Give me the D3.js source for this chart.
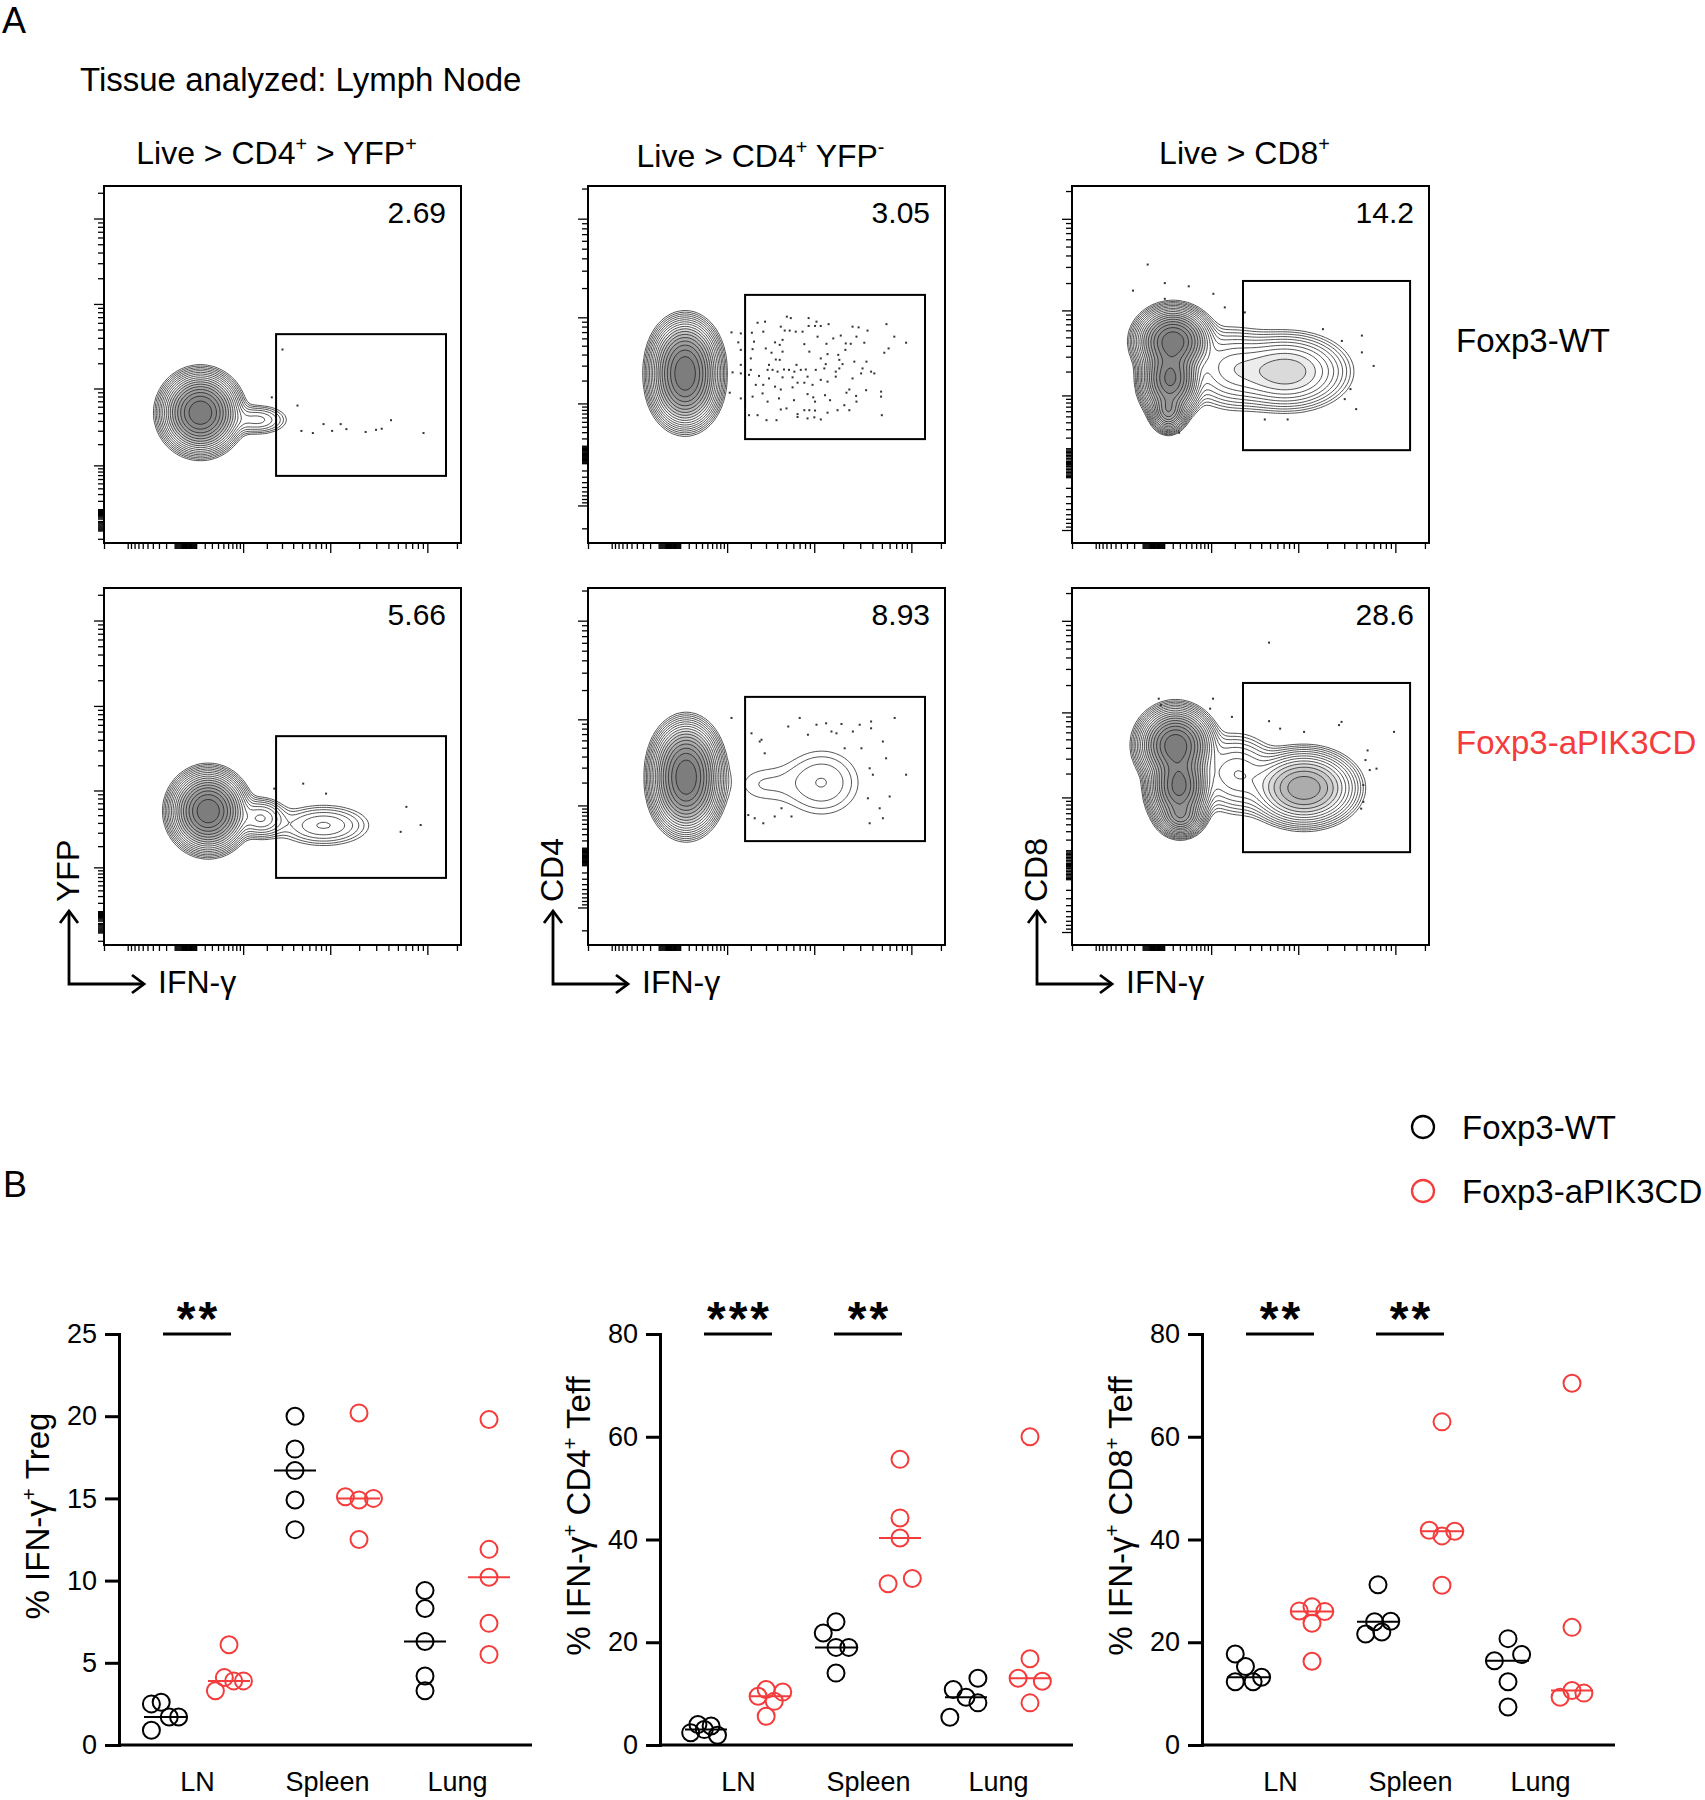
<!DOCTYPE html>
<html lang="en">
<head>
<meta charset="UTF-8">
<title>IFN-γ in Treg and Teff: Foxp3-WT vs Foxp3-aPIK3CD</title>
<style>
  body { margin: 0; background: #fff; }
  svg text { font-family: "Liberation Sans", Arial, Helvetica, sans-serif; fill: #000; }
</style>
</head>
<body>
<svg id="fig" width="1705" height="1800"></svg>
<script src="https://d3js.org/d3.v7.min.js"></script>
<script>
// ---------- panel A data ----------
const flowTitles = ["Live > CD4^+ > YFP^+", "Live > CD4^+ YFP^-", "Live > CD8^+"];
const flowYLabels = ["YFP", "CD4", "CD8"];
const flowXLabel = "IFN-γ";
const rowLabels = ["Foxp3-WT", "Foxp3-aPIK3CD"];
const gateFreqs = [["2.69", "3.05", "14.2"], ["5.66", "8.93", "28.6"]];
// gates per column, channel units 0-1000: [x1, x2, y1, y2]
const gates = [[482, 958, 188, 585], [440, 944, 291, 695], [479, 947, 260, 734]];

// populations: [cx, cy, sx, sy, peak] (channel units)
const popsWtTreg = [[270, 365, 41, 42, 1], [430, 345, 45, 22, 0.03]];
const popsWtCd4 = [[272, 505, 37, 48, 1], [272, 445, 37, 48, 1]];
const popsWtCd8 = [[283, 565, 40, 36, 1], [275, 460, 32, 42, 0.85], [270, 370, 20, 24, 0.35],
                   [600, 480, 78, 48, 0.12], [440, 490, 60, 55, 0.05]];
const popsApTreg = [[292, 375, 40, 42, 1], [440, 355, 35, 28, 0.05], [615, 335, 72, 32, 0.028]];
const popsApCd4 = [[275, 500, 37, 50, 1], [275, 440, 37, 50, 1], [655, 455, 75, 65, 0.025],
                   [480, 450, 60, 45, 0.012]];
const popsApCd8 = [[290, 560, 40, 40, 1], [300, 445, 33, 45, 0.9], [305, 360, 25, 22, 0.3],
                   [650, 440, 62, 44, 0.3], [460, 480, 55, 55, 0.05]];

// outlier events outside the lowest contour
const dotsWtTreg = [[500,542],[542,385],[553,314],[585,308],[615,333],[639,314],[663,333],[679,319],
                    [733,311],[762,317],[778,320],[804,344],[895,308],[470,408]];
const dotsWtCd4 = [[557,634],[568,630],[618,630],[640,620],[475,617],[496,620],[540,606],[618,608],
  [636,608],[652,608],[674,613],[741,606],[758,604],[836,613],[459,589],[491,592],[551,595],[565,595],
  [582,592],[601,592],[643,578],[687,573],[708,581],[783,595],[752,578],[858,578],[465,564],[524,562],
  [537,555],[545,569],[606,557],[668,558],[722,559],[736,558],[774,561],[891,561],[461,543],[498,545],
  [514,533],[545,536],[620,536],[721,541],[830,533],[842,545],[456,517],[526,514],[537,513],[652,517],
  [671,529],[701,527],[704,513],[507,499],[584,499],[666,501],[713,501],[746,508],[780,508],[456,485],
  [503,485],[517,485],[531,480],[549,486],[563,485],[578,480],[596,485],[610,486],[638,485],[662,489],
  [694,480],[704,489],[769,489],[793,480],[802,475],[451,471],[479,468],[507,461],[545,464],[573,464],
  [615,466],[652,457],[694,466],[741,461],[765,475],[470,443],[491,443],[524,438],[540,430],[573,436],
  [587,449],[606,449],[629,443],[671,452],[732,430],[779,428],[821,424],[461,410],[489,419],[503,396],
  [535,405],[577,400],[615,417],[631,408],[636,396],[664,414],[678,400],[724,421],[751,412],[752,396],
  [821,410],[451,358],[475,358],[500,344],[528,344],[540,374],[556,377],[587,361],[606,372],[620,372],
  [636,371],[652,346],[671,365],[699,372],[718,386],[732,372],[823,358],[587,353],[615,349],[634,352],
  [428,587],[428,541],[428,499],[428,475],[428,405],[421,562],[405,478],[397,421],[402,590]];
const dotsWtCd8 = [[212,780],[260,728],[171,707],[327,719],[396,698],[260,684],[428,660],[484,646],
  [756,566],[812,581],[845,496],[780,431],[796,375],[764,403],[703,599],[604,346],[540,346],[300,309],[812,534]];
const dotsApTreg = [[558,452],[622,424],[847,387],[887,336],[831,317],[477,438]];
const dotsApCd4 = [[402,636],[458,593],[481,570],[495,537],[486,575],[561,612],[593,636],[616,589],
  [640,617],[667,621],[696,593],[710,619],[719,551],[742,598],[766,551],[793,626],[793,607],[826,570],
  [835,523],[859,636],[789,495],[798,477],[845,416],[817,383],[826,355],[789,341],[891,477],[784,411],
  [467,355],[491,341],[523,360],[570,360],[542,383],[449,364],[761,617],[682,598]];
const dotsApCd8 = [[243,690],[395,690],[249,672],[552,847],[448,639],[552,627],[755,625],[748,616],
  [902,597],[828,545],[822,518],[834,490],[853,494],[816,448],[816,401],[810,382],[387,662],[650,597],[583,606]];

const flowPlots = [
  {row: 0, col: 0, pops: popsWtTreg, dots: dotsWtTreg},
  {row: 0, col: 1, pops: popsWtCd4, dots: dotsWtCd4},
  {row: 0, col: 2, pops: popsWtCd8, dots: dotsWtCd8},
  {row: 1, col: 0, pops: popsApTreg, dots: dotsApTreg},
  {row: 1, col: 1, pops: popsApCd4, dots: dotsApCd4},
  {row: 1, col: 2, pops: popsApCd8, dots: dotsApCd8}
];

// logicle-like axes (symlog constant + domain) for IFN-γ and each y marker
const xAxisCfg = {c: 350, domain: [-2000, 220000], majors: [1e3, 1e4, 1e5]};
const yAxisCfg = [
  {c: 30, domain: [-26, 240000], majors: [1e2, 1e3, 1e4, 1e5]},
  {c: 450, domain: [-2980, 212000], majors: [-1e3, 1e3, 1e4, 1e5]},
  {c: 230, domain: [-1470, 226800], majors: [-1e3, 1e3, 1e4, 1e5]}
];

// ---------- panel B data ----------
const categories = ["LN", "Spleen", "Lung"];
const groups = ["Foxp3-WT", "Foxp3-aPIK3CD"];

const tregWt = [[0.9, 2.5, 2.6, 1.7, 1.7], [20.0, 18.0, 16.7, 14.9, 13.1], [9.4, 8.3, 6.3, 4.2, 3.3]];
const tregWtJit = [[-1.6, -1.6, -0.45, 0.5, 1.6], [0, 0, 0, 0, 0], [0, 0, 0, 0, 0]];
const tregAp = [[3.3, 4.1, 6.1, 3.9, 3.9], [20.2, 15.1, 14.9, 15.0, 12.5], [19.8, 11.9, 10.2, 7.4, 5.5]];
const tregApJit = [[-1.6, -0.55, 0, 0.55, 1.7], [0, -1.6, 0, 1.7, 0], [0, 0, 0, 0, 0]];

const cd4Wt = [[2.4, 4.0, 3.0, 3.7, 1.9], [21.8, 24.0, 19.0, 19.0, 14.0], [5.4, 10.8, 9.3, 13.0, 8.2]];
const cd4WtJit = [[-1.8, -0.95, -0.2, 0.6, 1.35], [-1.5, 0, 0, 1.5, 0], [-1.9, -1.5, 0, 1.4, 1.4]];
const cd4Ap = [[9.5, 10.8, 5.6, 8.5, 10.3], [55.6, 44.2, 40.3, 31.4, 32.4], [60.0, 16.8, 13.0, 12.4, 8.2]];
const cd4ApJit = [[-1.4, -0.45, -0.45, 0.5, 1.5], [0, 0, 0, -1.4, 1.45], [0, 0, -1.4, 1.45, 0]];

const cd8Wt = [[17.7, 15.3, 12.3, 12.3, 13.2], [31.2, 24.1, 24.0, 21.6, 22.0], [20.7, 17.6, 16.4, 12.3, 7.4]];
const cd8WtJit = [[-1.5, -0.3, -1.5, 0.6, 1.6], [0, 1.5, -0.4, -1.45, 0.45], [0, 1.6, -1.6, 0, 0]];
const cd8Ap = [[26.1, 26.9, 26.0, 23.7, 16.3], [41.8, 40.7, 41.6, 62.9, 31.1], [70.4, 22.9, 9.3, 10.6, 10.1]];
const cd8ApJit = [[-1.5, 0, 1.5, 0, 0], [-1.5, 0, 1.5, 0, 0], [0, 0, -1.4, 0, 1.4]];

const yLabels = ["% IFN-γ^+ Treg", "% IFN-γ^+ CD4^+ Teff", "% IFN-γ^+ CD8^+ Teff"];
const yMax = [25, 80, 80];
const yTicks = [[0, 5, 10, 15, 20, 25], [0, 20, 40, 60, 80], [0, 20, 40, 60, 80]];
const sigMarks = [[["**", "LN"]], [["***", "LN"], ["**", "Spleen"]], [["**", "LN"], ["**", "Spleen"]]];

const dotCharts = [
  {wt: tregWt, wtJit: tregWtJit, ap: tregAp, apJit: tregApJit},
  {wt: cd4Wt, wtJit: cd4WtJit, ap: cd4Ap, apJit: cd4ApJit},
  {wt: cd8Wt, wtJit: cd8WtJit, ap: cd8Ap, apJit: cd8ApJit}
];

// ---------- drawing ----------
const RED = "#f53c3c";
const svg = d3.select("#fig");

// text with ^x superscripts
function richText(sel, str, size) {
  let up = false;
  str.split(/(\^.)/).filter(s => s.length).forEach(p => {
    if (p[0] === "^") {
      sel.append("tspan").attr("font-size", size * 0.62).attr("dy", -size * 0.4).text(p[1]);
      up = true;
    } else {
      sel.append("tspan").attr("dy", up ? size * 0.4 : 0).text(p);
      up = false;
    }
  });
}

svg.append("text").attr("x", 2).attr("y", 33).attr("font-size", 36).text("A");
svg.append("text").attr("x", 3).attr("y", 1197).attr("font-size", 36).text("B");
svg.append("text").attr("x", 80).attr("y", 91).attr("font-size", 33).text("Tissue analyzed: Lymph Node");

const boxW = 357, boxH = 357;
const colX = [104, 588, 1072];
const rowY = [186, 588];
const G = 150;
const NLEV = 17, LOWEST = 0.006;

function tickList(cfg) {
  const out = [];
  for (let n = 0; n <= 5; n++) {
    for (let k = 1; k <= 9; k++) {
      const v = k * Math.pow(10, n);
      [v, -v].forEach(t => {
        if (t >= cfg.domain[0] && t <= cfg.domain[1] && !cfg.majors.includes(t)) out.push(t);
      });
    }
  }
  return out;
}

flowTitles.forEach((t, c) => {
  const tx = svg.append("text")
    .attr("x", colX[c] + boxW / 2 - 6).attr("y", c === 1 ? 167 : 164)
    .attr("text-anchor", "middle").attr("font-size", 32);
  richText(tx, t, 32);
});

rowLabels.forEach((t, r) => {
  svg.append("text").attr("x", 1456).attr("y", r === 0 ? 352 : 754)
    .attr("font-size", 33).style("fill", r === 0 ? "#000" : RED)
    .text(t);
});

const defs = svg.append("defs");

flowPlots.forEach((p, idx) => {
  const x0 = colX[p.col], y0 = rowY[p.row];
  const g = svg.append("g");
  const xCh = d3.scaleLinear().domain([0, 1000]).range([x0, x0 + boxW]);
  const yCh = d3.scaleLinear().domain([0, 1000]).range([y0 + boxH, y0]);

  // density grid from the populations
  const values = new Float64Array(G * G);
  for (let j = 0; j < G; j++) {
    const cy = 1000 - (j + 0.5) / G * 1000;
    for (let i = 0; i < G; i++) {
      const cx = (i + 0.5) / G * 1000;
      let s = 0;
      p.pops.forEach(([mx, my, sx, sy, a]) => {
        const dx = (cx - mx) / sx, dy = (cy - my) / sy;
        s += a * Math.exp(-0.5 * (dx * dx + dy * dy));
      });
      values[i + j * G] = s;
    }
  }
  const vmax = d3.max(values);
  const thresholds = d3.range(NLEV).map(k => vmax * Math.pow(LOWEST, (k + 1) / NLEV));
  const rings = d3.contours().size([G, G]).thresholds(thresholds)(values);
  const proj = d3.geoTransform({
    point(x, y) { this.stream.point(xCh(x / G * 1000), yCh(1000 - y / G * 1000)); }
  });
  const path = d3.geoPath(proj);

  const clipId = "clip" + idx;
  defs.append("clipPath").attr("id", clipId)
    .append("rect").attr("x", x0).attr("y", y0).attr("width", boxW).attr("height", boxH);

  // dense cores get a light fill so they read dark like the cytometer plot
  g.append("g").attr("clip-path", `url(#${clipId})`)
    .selectAll("path").data(rings).join("path")
    .attr("d", path).attr("fill", "#000")
    .attr("fill-opacity", d => d.value > vmax * 0.06 ? 0.075 : 0)
    .attr("stroke", "#1c1c1c").attr("stroke-width", 0.9).attr("stroke-opacity", 0.85);

  g.append("g").selectAll("rect").data(p.dots).join("rect")
    .attr("x", d => xCh(d[0]) - 1).attr("y", d => yCh(d[1]) - 1)
    .attr("width", 2).attr("height", 2).attr("fill", "#333");

  // gate
  const gt = gates[p.col];
  g.append("rect")
    .attr("x", xCh(gt[0])).attr("y", yCh(gt[3]))
    .attr("width", xCh(gt[1]) - xCh(gt[0])).attr("height", yCh(gt[2]) - yCh(gt[3]))
    .attr("fill", "none").attr("stroke", "#000").attr("stroke-width", 2);

  // frame
  g.append("rect").attr("x", x0).attr("y", y0).attr("width", boxW).attr("height", boxH)
    .attr("fill", "none").attr("stroke", "#000").attr("stroke-width", 2);

  // logicle-style ticks
  const xs = d3.scaleSymlog().constant(xAxisCfg.c).domain(xAxisCfg.domain).range([x0, x0 + boxW]);
  const yc = yAxisCfg[p.col];
  const ys = d3.scaleSymlog().constant(yc.c).domain(yc.domain).range([y0 + boxH, y0]);
  const tickStyle = s => { s.select(".domain").remove(); s.selectAll("line").attr("stroke", "#000").attr("stroke-width", 1.3); };
  g.append("g").attr("transform", `translate(0,${y0 + boxH + 1})`)
    .call(d3.axisBottom(xs).tickValues(tickList(xAxisCfg)).tickSize(5).tickFormat("")).call(tickStyle);
  g.append("g").attr("transform", `translate(0,${y0 + boxH + 1})`)
    .call(d3.axisBottom(xs).tickValues(xAxisCfg.majors).tickSize(9).tickFormat("")).call(tickStyle);
  g.append("g").attr("transform", `translate(${x0 - 1},0)`)
    .call(d3.axisLeft(ys).tickValues(tickList(yc)).tickSize(5).tickFormat("")).call(tickStyle);
  g.append("g").attr("transform", `translate(${x0 - 1},0)`)
    .call(d3.axisLeft(ys).tickValues(yc.majors).tickSize(9).tickFormat("")).call(tickStyle);

  g.append("text").attr("x", x0 + boxW - 15).attr("y", y0 + 37)
    .attr("text-anchor", "end").attr("font-size", 30).text(gateFreqs[p.row][p.col]);

  // axis arrows on the bottom row
  if (p.row === 1) {
    const cx = x0 - 35, cy = y0 + boxH + 39;
    const tipY = y0 + boxH - 34, tipX = x0 + 40;
    const a = g.append("g").attr("fill", "none").attr("stroke", "#000").attr("stroke-width", 2.8);
    a.append("path").attr("d", `M${cx},${tipY}V${cy}H${tipX}`);
    a.append("path").attr("d", `M${cx - 9},${tipY + 12}L${cx},${tipY}L${cx + 9},${tipY + 12}`);
    a.append("path").attr("d", `M${tipX - 12},${cy - 9}L${tipX},${cy}L${tipX - 12},${cy + 9}`);
    g.append("text").attr("x", x0 + 54).attr("y", y0 + boxH + 48).attr("font-size", 32).text(flowXLabel);
    g.append("text").attr("transform", `translate(${x0 - 25},${y0 + boxH - 43}) rotate(-90)`)
      .attr("font-size", 32).text(flowYLabels[p.col]);
  }
});

// ---------- panel B ----------
const axX = [119, 660, 1202];
const yTop = 1334, yBot = 1745;
const R = 8.5;

dotCharts.forEach((ch, ci) => {
  const ax = axX[ci];
  const g = svg.append("g");
  const y = d3.scaleLinear().domain([0, yMax[ci]]).range([yBot, yTop]);
  const x = d3.scalePoint().domain(categories).range([ax + 78, ax + 338]);
  const off = d3.scaleOrdinal().domain(groups).range([-32, 32]);

  const yAx = g.append("g").attr("transform", `translate(${ax},0)`)
    .call(d3.axisLeft(y).tickValues(yTicks[ci]).tickSize(14).tickPadding(8).tickSizeOuter(0));
  yAx.select(".domain").attr("stroke-width", 3).attr("stroke-linecap", "square");
  yAx.selectAll(".tick line").attr("stroke-width", 3);
  yAx.selectAll(".tick text").attr("font-size", 27).attr("font-family", null).attr("fill", "#000");

  g.append("line").attr("x1", ax).attr("x2", ax + 413).attr("y1", yBot).attr("y2", yBot)
    .attr("stroke", "#000").attr("stroke-width", 3);
  const xAx = g.append("g").attr("transform", `translate(0,${yBot})`)
    .call(d3.axisBottom(x).tickSize(0).tickPadding(27));
  xAx.select(".domain").remove();
  xAx.selectAll(".tick text").attr("font-size", 27).attr("font-family", null).attr("fill", "#000");

  const series = [
    {grp: groups[0], vals: ch.wt, jit: ch.wtJit, color: "#000"},
    {grp: groups[1], vals: ch.ap, jit: ch.apJit, color: RED}
  ];
  series.forEach(s => {
    categories.forEach((cat, k) => {
      const cx = x(cat) + off(s.grp);
      const pts = s.vals[k].map((v, i) => ({v, j: s.jit[k][i]}));
      g.append("g").selectAll("circle").data(pts).join("circle")
        .attr("cx", d => cx + d.j * R).attr("cy", d => y(d.v)).attr("r", R)
        .attr("fill", "none").attr("stroke", s.color).attr("stroke-width", 2);
      const med = d3.median(s.vals[k]);
      g.append("line").attr("x1", cx - 21).attr("x2", cx + 21)
        .attr("y1", y(med)).attr("y2", y(med)).attr("stroke", s.color).attr("stroke-width", 2);
    });
  });

  sigMarks[ci].forEach(([stars, cat]) => {
    const x1 = x(cat) + off(groups[0]) - 2, x2 = x(cat) + off(groups[1]) + 2;
    g.append("line").attr("x1", x1).attr("x2", x2).attr("y1", y(yMax[ci])).attr("y2", y(yMax[ci]))
      .attr("stroke", "#000").attr("stroke-width", 3.2);
    g.append("text").attr("x", (x1 + x2) / 2 + 1.5).attr("y", y(yMax[ci]) + 1)
      .attr("text-anchor", "middle").attr("font-size", 48).attr("font-weight", "bold")
      .attr("letter-spacing", 3).text(stars);
  });

  const lab = g.append("text").attr("transform", `translate(${ax - 70},1516) rotate(-90)`)
    .attr("text-anchor", "middle").attr("font-size", 33);
  richText(lab, yLabels[ci], 33);
});

// legend
groups.forEach((grp, i) => {
  const col = i === 0 ? "#000" : RED;
  svg.append("circle").attr("cx", 1423).attr("cy", 1127 + i * 64).attr("r", 11)
    .attr("fill", "none").attr("stroke", col).attr("stroke-width", 2.3);
  svg.append("text").attr("x", 1462).attr("y", 1139 + i * 64).attr("font-size", 33).text(grp);
});
</script>
</body>
</html>
